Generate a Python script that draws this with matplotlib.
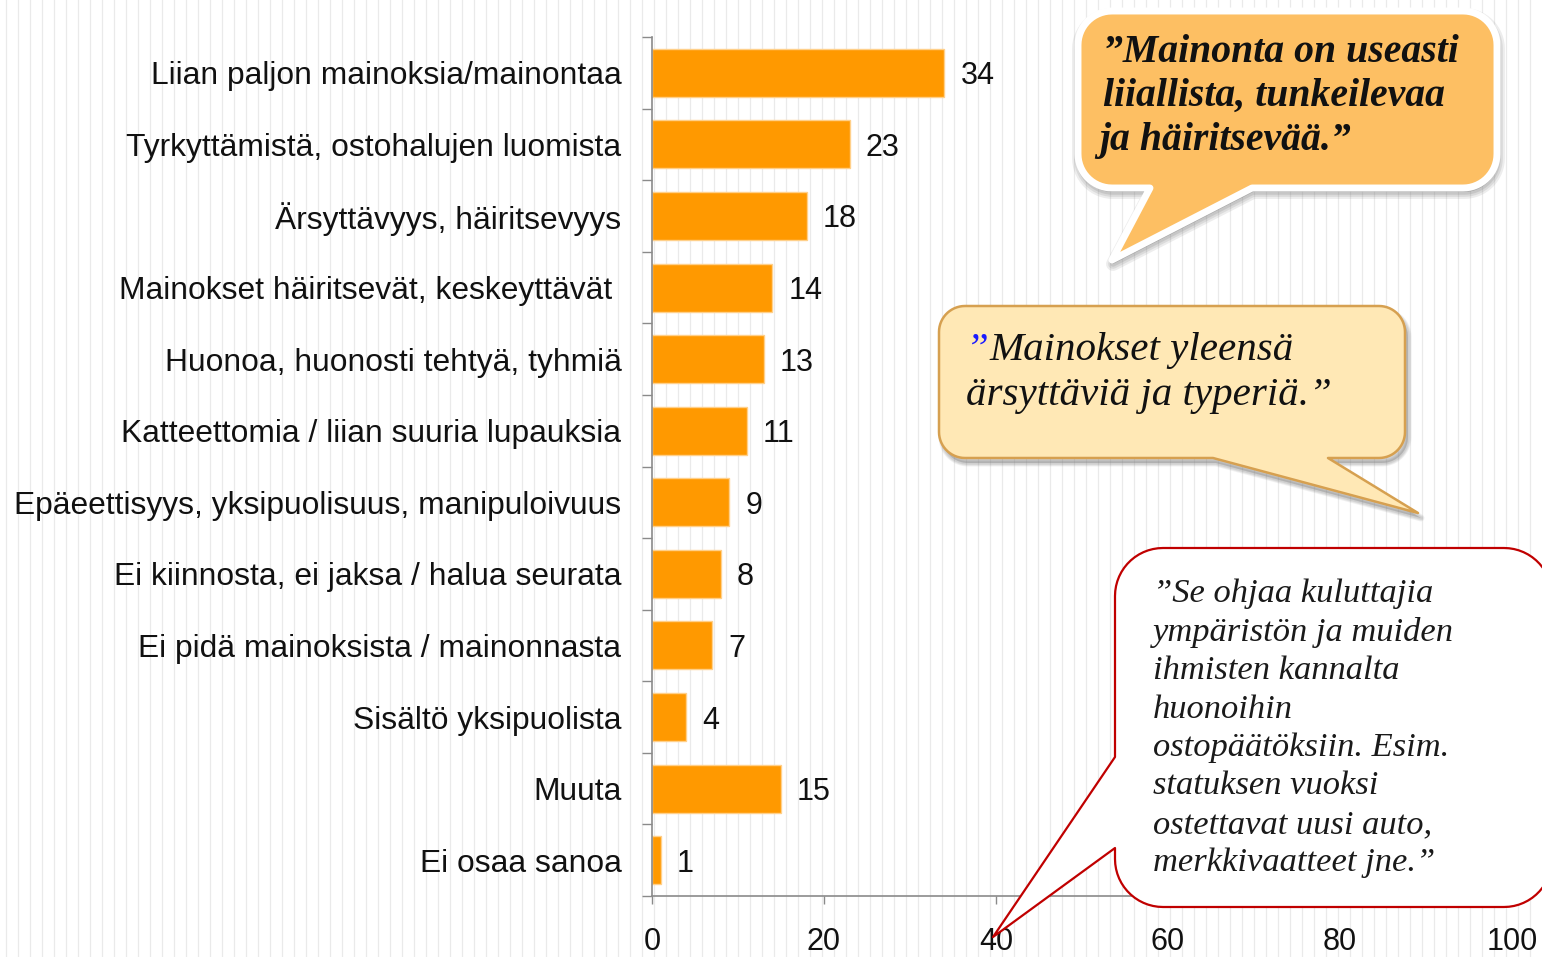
import numpy as np
import matplotlib
matplotlib.use('Agg')
import matplotlib.pyplot as plt
from matplotlib.path import Path
from matplotlib.patches import PathPatch
from matplotlib.transforms import Affine2D
from matplotlib.lines import Line2D

# ---------------- data ----------------
categories = [
    "Liian paljon mainoksia/mainontaa",
    "Tyrkyttämistä, ostohalujen luomista",
    "Ärsyttävyys, häiritsevyys",
    "Mainokset häiritsevät, keskeyttävät ",
    "Huonoa, huonosti tehtyä, tyhmiä",
    "Katteettomia / liian suuria lupauksia",
    "Epäeettisyys, yksipuolisuus, manipuloivuus",
    "Ei kiinnosta, ei jaksa / halua seurata",
    "Ei pidä mainoksista / mainonnasta",
    "Sisältö yksipuolista",
    "Muuta",
    "Ei osaa sanoa",
]
values = [34, 23, 18, 14, 13, 11, 9, 8, 7, 4, 15, 1]
xticks = [0, 20, 40, 60, 80, 100]

quote1 = ["”Mainonta on useasti", "liiallista, tunkeilevaa", "ja häiritsevää.”"]
quote2_mark = "”"
quote2 = ["Mainokset yleensä", "ärsyttäviä ja typeriä.”"]
quote3 = ["”Se ohjaa kuluttajia", "ympäristön ja muiden", "ihmisten kannalta",
          "huonoihin", "ostopäätöksiin. Esim.", "statuksen vuoksi",
          "ostettavat uusi auto,", "merkkivaatteet jne.”"]

# ---------------- figure ----------------
W, H = 1542, 957
fig = plt.figure(figsize=(W / 100, H / 100), dpi=100)
px = Affine2D().scale(1, -1).translate(0, H)   # pixel coords, y down

# striped background
for x in np.arange(6, W, 12):
    fig.add_artist(Line2D([x, x], [0, H], transform=px, color='#eaeaea',
                          lw=0.9, zorder=-10))

LABEL_FONT = 'Liberation Sans'
LS = 22.9
NS = 22

ax = fig.add_axes([652 / W, 61 / H, 860 / W, 859 / H])
ax.set_zorder(1)
ax.set_facecolor('none')
y = np.arange(len(categories))
bars = ax.barh(y, values, height=0.67, color='#FF9900', edgecolor='#FFD08A', lw=1)
ax.set_ylim(len(categories) - 0.5, -0.5)
ax.set_xlim(0, 100)
ax.set_yticks(y, categories, fontfamily=LABEL_FONT, fontsize=LS, color='#111111')
ax.tick_params(axis='y', which='major', length=0, pad=22)
ax.set_yticks(np.arange(-0.5, len(categories), 1), minor=True)
ax.tick_params(axis='y', which='minor', length=7, width=1, color='#8a8a8a', direction='out')
ax.set_xticks(xticks, [str(t) for t in xticks], fontfamily=LABEL_FONT, fontsize=NS, color='#111111')
ax.tick_params(axis='x', length=6, width=1, color='#8a8a8a', pad=16.5)
for s in ['top', 'right']:
    ax.spines[s].set_visible(False)
for s in ['left', 'bottom']:
    ax.spines[s].set_color('#8a8a8a')
    ax.spines[s].set_linewidth(1.2)
for t in ax.bar_label(bars, labels=[str(v) for v in values], padding=11.5,
                      fontfamily=LABEL_FONT, fontsize=NS, color='#111111'):
    t.set_va('center_baseline')


# ---------------- speech bubbles ----------------
def arc(cx, cy, r, a0, a1, n=16):
    t = np.radians(np.linspace(a0, a1, n))
    return list(zip(cx + r * np.cos(t), cy + r * np.sin(t)))


def bubble(x0, y0, x1, y1, r, tail_edge, tail):
    pts = [(x0 + r, y0)]
    pts += arc(x1 - r, y0 + r, r, -90, 0)
    pts += arc(x1 - r, y1 - r, r, 0, 90)
    if tail_edge == 'bottom':
        pts += tail
    pts += arc(x0 + r, y1 - r, r, 90, 180)
    if tail_edge == 'left':
        pts += tail
    pts += arc(x0 + r, y0 + r, r, 180, 270)
    pts.append(pts[0])
    codes = [Path.MOVETO] + [Path.LINETO] * (len(pts) - 2) + [Path.CLOSEPOLY]
    return Path(pts, codes)


def add_bubble(path, face, edge, lw, shadow=(3, 5), shadow_alpha=0.25, shadow_lw=6, z=5):
    if shadow is not None:
        for k, a in enumerate([0.10, 0.12, 0.15]):
            sp = path.transformed(Affine2D().translate(shadow[0], shadow[1]))
            fig.add_artist(PathPatch(sp, transform=px, facecolor='#808080', edgecolor='#808080',
                                     lw=shadow_lw * (3 - k) / 3 + 1, alpha=a * shadow_alpha / 0.25,
                                     joinstyle='round', zorder=z - 0.5))
    fig.add_artist(PathPatch(path, transform=px, facecolor=face, edgecolor=edge, lw=lw,
                             joinstyle='round', zorder=z))


# bubble 1 (orange, white border)
p1 = bubble(1078, 11, 1497, 188, 34, 'bottom', [(1252, 188), (1112, 260), (1150, 188)])
add_bubble(p1, '#FDBF63', 'white', 5.0, shadow=(1, 4), shadow_alpha=0.35, shadow_lw=9)

# bubble 2 (light yellow, brown border)
p2 = bubble(939, 306, 1405, 458, 26, 'bottom', [(1328, 458), (1418, 513), (1213, 458)])
add_bubble(p2, '#FFE8B5', '#D6A050', 1.8, shadow=(3, 5), shadow_alpha=0.28, shadow_lw=4)

# bubble 3 (white, red border)
p3 = bubble(1115, 548, 1552, 907, 48, 'left', [(1115, 848), (993, 937), (1115, 757)])
add_bubble(p3, 'white', '#C00000', 1.6, shadow=None)

# ---------------- quote texts ----------------
SERIF = 'Liberation Serif'
for i, line in enumerate(quote1):
    fig.text(1103 if i < 2 else 1099, 62 + i * 44, line, transform=px, fontfamily=SERIF,
             style='italic', weight='bold', fontsize=28.6, color='#111111',
             ha='left', va='baseline', zorder=6)

qm = fig.text(966, 360, quote2_mark, transform=px, fontfamily=SERIF, style='italic',
              fontsize=29.5, color='#1a1aff', ha='left', va='baseline', zorder=6)
fig.canvas.draw()
bb = qm.get_window_extent()
fig.text(bb.x1 + 1, H - 360, quote2[0], transform=Affine2D(), fontfamily=SERIF,
         style='italic', fontsize=29.5, color='#111111', ha='left', va='baseline', zorder=6)
fig.text(966, 405, quote2[1], transform=px, fontfamily=SERIF, style='italic',
         fontsize=29.5, color='#111111', ha='left', va='baseline', zorder=6)

for i, line in enumerate(quote3):
    fig.text(1153, 602 + i * 38.5, line, transform=px, fontfamily=SERIF, style='italic',
             fontsize=24.8, color='#1a1a1a', ha='left', va='baseline', zorder=6)

fig.savefig('out.png', dpi=100)
